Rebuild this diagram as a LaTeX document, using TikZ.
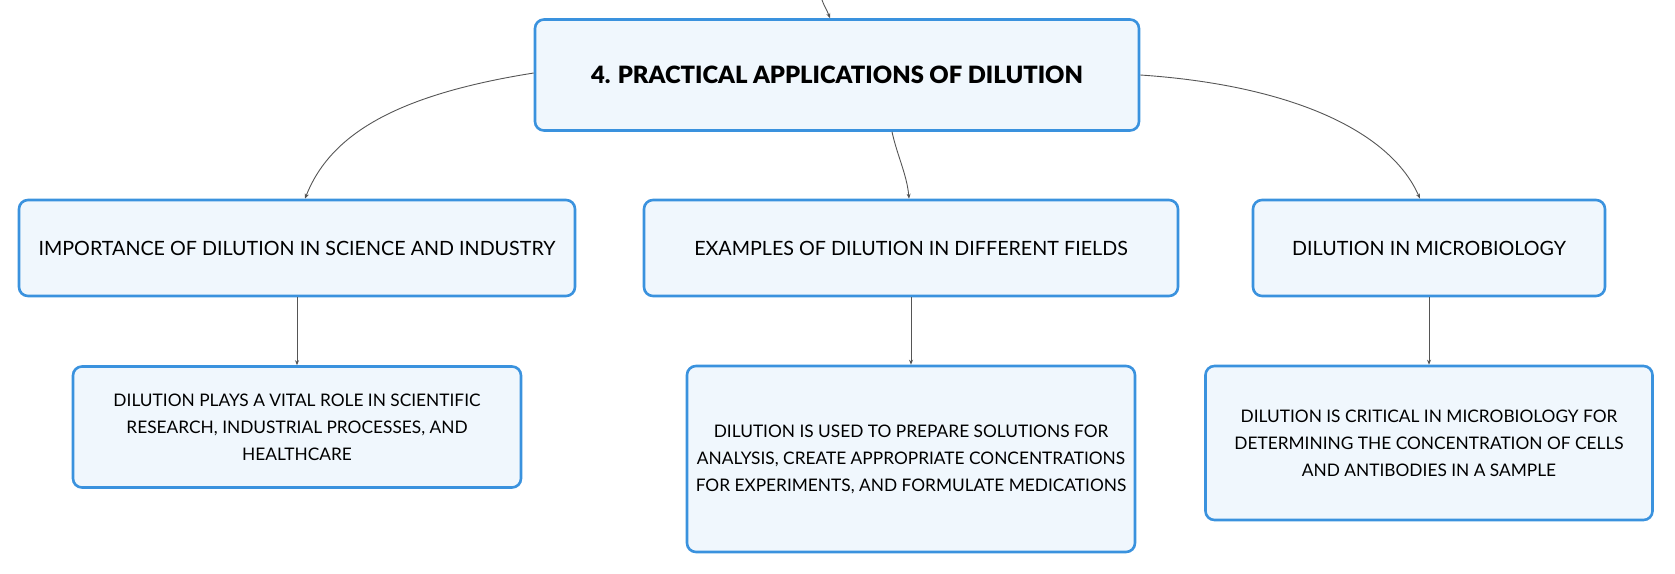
\documentclass[tikz,border=0pt]{standalone}
\usepackage{fontspec}
\setmainfont{Lato}
\newfontfamily\titlefont{Lato Black}
\usetikzlibrary{arrows.meta}
\definecolor{boxblue}{RGB}{58,146,222}
\definecolor{boxfill}{RGB}{240,247,253}
\definecolor{linegray}{RGB}{85,85,85}
\begin{document}
\begin{tikzpicture}[x=1pt,y=-1pt,
 topic/.style={draw=boxblue,fill=boxfill,line width=2.6pt,rounded corners=9pt,align=center,inner sep=0pt,font=\fontsize{19.7}{27}\selectfont},
 note/.style={topic,font=\fontsize{17.3}{27}\selectfont},
 link/.style={draw=linegray,line width=0.9pt,-{Stealth[length=5pt,width=4pt]}}]

\useasboundingbox (0,0) rectangle (1675,573);

%main topic
\node[topic,minimum width=604pt,minimum height=111pt,font=\fontsize{23.8}{28}\titlefont] (T) at (837,75) {4. PRACTICAL APPLICATIONS OF DILUTION};
\coordinate (P) at (822,0);

\node[topic,minimum width=556pt,minimum height=96pt] (A) at (297,248) {IMPORTANCE OF DILUTION IN SCIENCE AND INDUSTRY};
\node[topic,minimum width=534pt,minimum height=96pt] (B) at (911,248) {EXAMPLES OF DILUTION IN DIFFERENT FIELDS};
\node[topic,minimum width=352pt,minimum height=96pt] (C) at (1429,248) {DILUTION IN MICROBIOLOGY};

\node[note,minimum width=448pt,minimum height=121pt] (D) at (297,427) {DILUTION PLAYS A VITAL ROLE IN SCIENTIFIC\\ RESEARCH, INDUSTRIAL PROCESSES, AND\\ HEALTHCARE};
\node[note,minimum width=448pt,minimum height=186pt] (E) at (911,459) {DILUTION IS USED TO PREPARE SOLUTIONS FOR\\ ANALYSIS, CREATE APPROPRIATE CONCENTRATIONS\\ FOR EXPERIMENTS, AND FORMULATE MEDICATIONS};
\node[note,minimum width=447pt,minimum height=154pt] (F) at (1429,443) {DILUTION IS CRITICAL IN MICROBIOLOGY FOR\\ DETERMINING THE CONCENTRATION OF CELLS\\ AND ANTIBODIES IN A SAMPLE};

%links
\draw[link] (P) .. controls +(3,8) and +(-3,-8) .. ([xshift=-7pt]T.north);
\draw[link] ([yshift=2pt]T.west) .. controls (395,95) and (330,135) .. ([xshift=8pt]A.north);
\draw[link] ([xshift=55pt]T.south) .. controls (897,155) and (907,175) .. ([xshift=-2pt]B.north);
\draw[link] (T.east) .. controls (1289,85) and (1390,130) .. ([xshift=-9pt]C.north);

\draw[link] (A) -- (D);
\draw[link] (B) -- (E);
\draw[link] (C) -- (F);
\end{tikzpicture}
\end{document}
